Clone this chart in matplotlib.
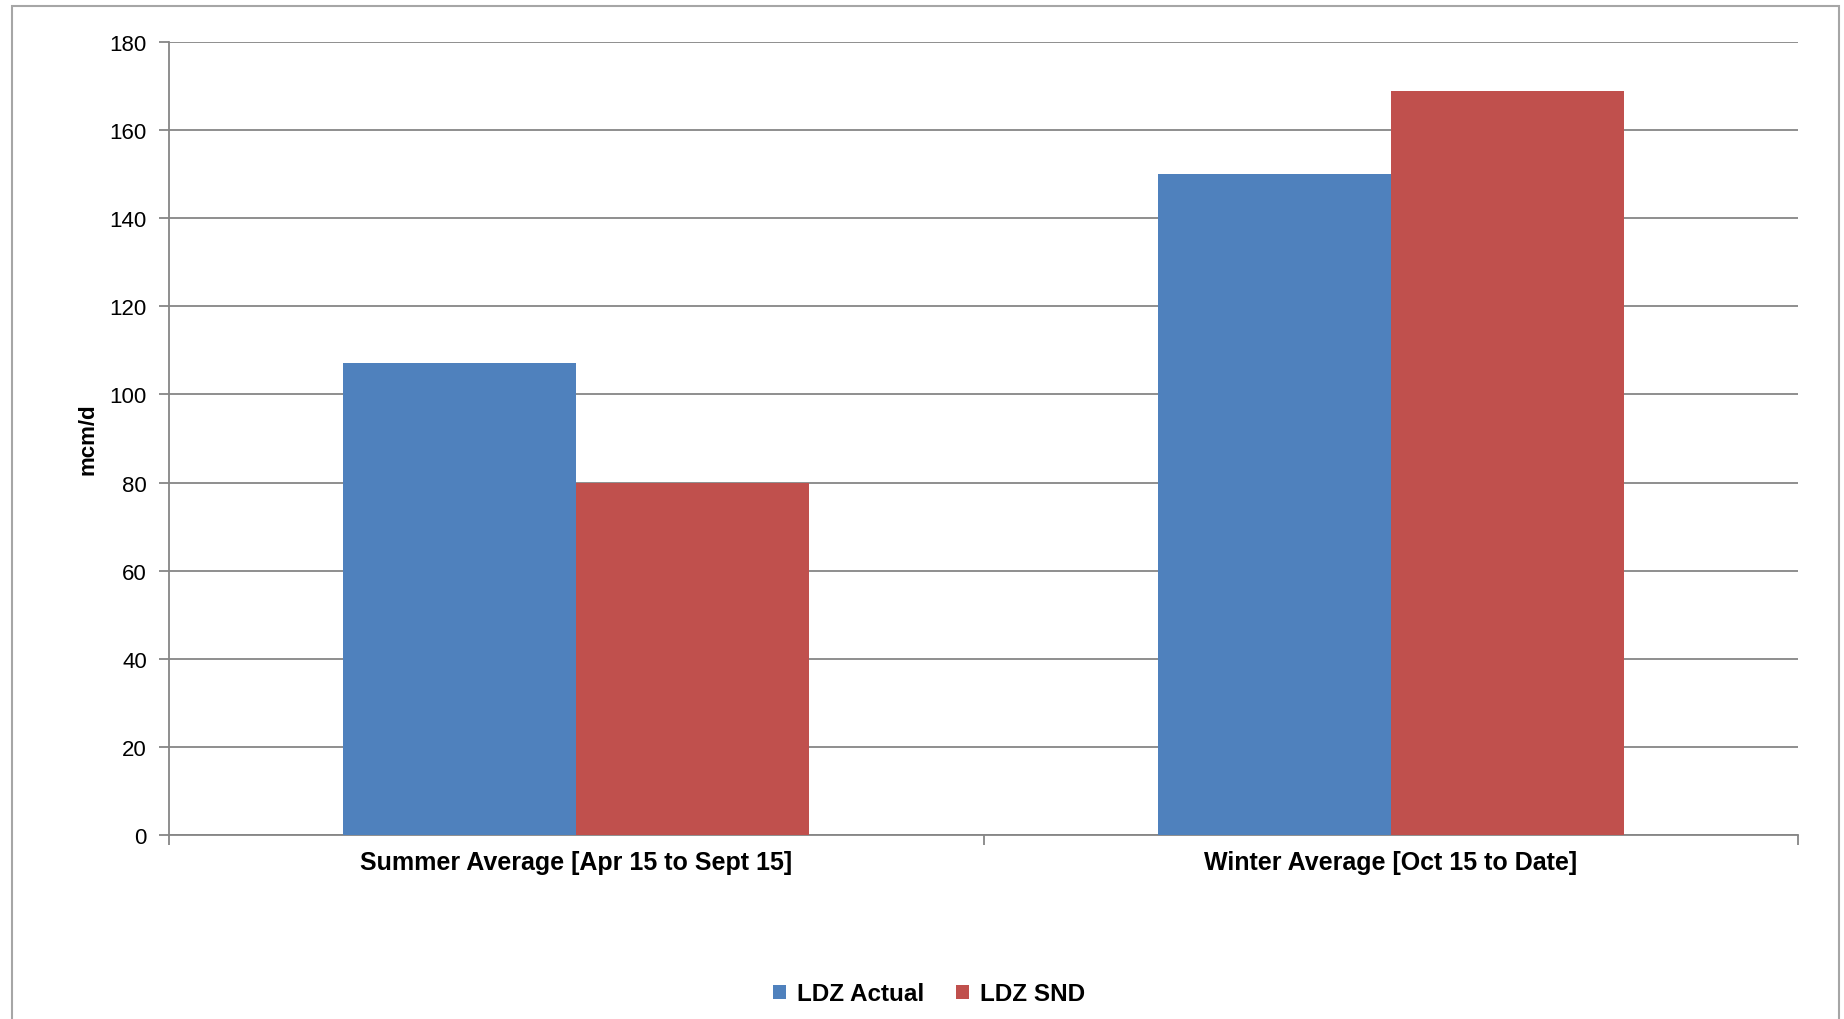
import numpy as np
import matplotlib.pyplot as plt
from matplotlib.patches import Rectangle

plt.rcParams['font.family'] = ['Liberation Sans', 'DejaVu Sans']

categories = ['Summer Average [Apr 15 to Sept 15]', 'Winter Average [Oct 15 to Date]']
ldz_actual = [107.2, 150.0]
ldz_snd = [80.0, 168.8]
series_names = ['LDZ Actual', 'LDZ SND']
colors = ['#4F81BD', '#C0504D']

W, H = 1844, 1020
fig = plt.figure(figsize=(W / 100, H / 100), dpi=100)
ax = fig.add_axes([169 / W, 1 - 836 / H, (1798 - 169) / W, (836 - 43) / H])

x = np.arange(len(categories))
bw = 0.286
ax.bar(x - bw / 2, ldz_actual, bw, color=colors[0], label=series_names[0], zorder=3)
ax.bar(x + bw / 2, ldz_snd, bw, color=colors[1], label=series_names[1], zorder=3)

ax.set_xlim(-0.5, len(categories) - 0.5)
ax.set_ylim(0, 180)
ax.set_yticks(np.arange(0, 181, 20))
ax.yaxis.grid(True, color='#868686', linewidth=1.3, zorder=0)
ax.set_axisbelow(True)

for s in ['top', 'right']:
    ax.spines[s].set_visible(False)
for s in ['left', 'bottom']:
    ax.spines[s].set_color('#868686')
    ax.spines[s].set_linewidth(1.3)

ax.set_xticks(x)
ax.set_xticklabels(categories, fontsize=18, fontweight='bold')
ax.tick_params(axis='x', length=0, pad=11)
ax.set_xticks(np.arange(-0.5, len(categories), 1), minor=True)
ax.tick_params(axis='x', which='minor', length=7, color='#868686', width=1.3)
ax.tick_params(axis='y', length=7, color='#868686', width=1.3, labelsize=16, pad=9)

fig.text(88 / W, 1 - 439 / H, 'mcm/d', rotation=90, ha='center', va='center',
         fontsize=16, fontweight='bold')

fig.legend(loc='center', bbox_to_anchor=(0.5 + 7 / W, 1 - 995 / H), ncol=2, frameon=False,
           prop={'weight': 'bold', 'size': 17.5},
           handlelength=0.55, handleheight=0.55, handletextpad=0.45, columnspacing=1.3)

# outer chart border
fig.patches.append(Rectangle((12 / W, -0.05), (1839 - 12) / W, 1 - 7 / H + 0.05,
                             transform=fig.transFigure, fill=False,
                             edgecolor='#a6a6a6', linewidth=1.5))

fig.savefig('out.png', dpi=100)
